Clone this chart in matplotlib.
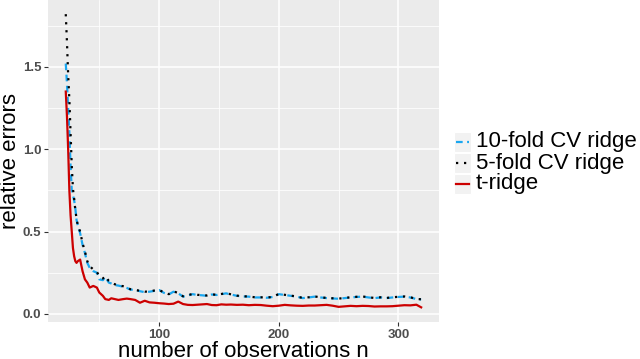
import matplotlib
matplotlib.use('Agg')
from matplotlib import pyplot as plt
from matplotlib.lines import Line2D
from matplotlib.patches import Rectangle

plt.rcParams['font.family'] = ['Liberation Sans', 'DejaVu Sans']

# number of observations
n_obs = [22, 23, 24, 25, 26, 27, 28, 29, 30, 31, 32, 34, 36, 38, 40, 42, 45, 48, 50, 53,
         55, 58, 60, 63, 66, 70, 73, 76, 80, 84, 88, 92, 96, 100, 104, 108, 112, 116, 120, 124,
         128, 132, 136, 140, 144, 148, 152, 156, 160, 165, 170, 175, 180, 185, 190, 195, 200, 205, 210, 215,
         220, 225, 230, 235, 240, 245, 250, 255, 260, 265, 270, 275, 280, 285, 290, 295, 300, 305, 310, 315,
         319]

cv10_ridge = [1.52, 1.40, 1.25, 1.10, 0.90, 0.75, 0.72, 0.69, 0.64, 0.57, 0.54, 0.49, 0.42, 0.37, 0.31, 0.28, 0.26, 0.25, 0.21, 0.205,
              0.225, 0.19, 0.185, 0.175, 0.172, 0.165, 0.158, 0.148, 0.145, 0.138, 0.132, 0.135, 0.14, 0.145, 0.128, 0.118, 0.135, 0.125, 0.105, 0.112,
              0.12, 0.115, 0.113, 0.11, 0.118, 0.115, 0.12, 0.125, 0.118, 0.11, 0.106, 0.105, 0.10, 0.10, 0.098, 0.103, 0.12, 0.115, 0.11, 0.105,
              0.096, 0.10, 0.105, 0.10, 0.096, 0.094, 0.092, 0.096, 0.10, 0.103, 0.105, 0.10, 0.096, 0.10, 0.096, 0.10, 0.103, 0.105, 0.10, 0.09,
              0.088]

cv5_ridge = [1.82, 1.65, 1.45, 1.30, 1.10, 0.90, 0.76, 0.70, 0.63, 0.58, 0.54, 0.50, 0.43, 0.38, 0.32, 0.29, 0.27, 0.255, 0.23, 0.215,
             0.23, 0.20, 0.19, 0.18, 0.175, 0.168, 0.16, 0.15, 0.146, 0.14, 0.135, 0.137, 0.142, 0.146, 0.13, 0.12, 0.137, 0.127, 0.107, 0.114,
             0.121, 0.116, 0.114, 0.112, 0.119, 0.116, 0.121, 0.126, 0.119, 0.111, 0.107, 0.106, 0.101, 0.101, 0.099, 0.104, 0.121, 0.116, 0.111, 0.106,
             0.097, 0.101, 0.106, 0.101, 0.097, 0.095, 0.093, 0.097, 0.101, 0.104, 0.106, 0.101, 0.097, 0.101, 0.097, 0.101, 0.104, 0.106, 0.101, 0.091,
             0.089]

t_ridge = [1.35, 1.20, 1.00, 0.75, 0.60, 0.50, 0.40, 0.35, 0.32, 0.31, 0.32, 0.33, 0.26, 0.21, 0.19, 0.16, 0.17, 0.16, 0.13, 0.11,
           0.09, 0.085, 0.095, 0.09, 0.085, 0.09, 0.093, 0.09, 0.085, 0.068, 0.08, 0.07, 0.068, 0.065, 0.063, 0.06, 0.062, 0.075, 0.06, 0.055,
           0.054, 0.056, 0.058, 0.06, 0.054, 0.053, 0.058, 0.056, 0.057, 0.055, 0.056, 0.053, 0.055, 0.054, 0.05, 0.047, 0.05, 0.055, 0.052, 0.05,
           0.049, 0.051, 0.051, 0.053, 0.055, 0.05, 0.043, 0.046, 0.049, 0.047, 0.049, 0.048, 0.045, 0.046, 0.046, 0.047, 0.05, 0.053, 0.052, 0.056,
           0.04]

labels = ['10-fold CV ridge', '5-fold CV ridge', 't-ridge']
colors = ['#1AA7F0', '#000000', '#CC0000']
styles = [(0, (3, 2)), (0, (1, 2.6)), '-']

fig = plt.figure(figsize=(6.4, 3.59), dpi=100)
ax = fig.add_axes([48 / 640, 1 - 322 / 359, (439 - 48) / 640, 322 / 359])
ax.set_facecolor('#EBEBEB')
for s in ax.spines.values():
    s.set_visible(False)

ax.plot(n_obs, cv10_ridge, color=colors[0], linestyle=styles[0], lw=1.6, dash_capstyle='butt', zorder=3)
ax.plot(n_obs, cv5_ridge, color=colors[1], linestyle=styles[1], lw=1.6, dash_capstyle='butt', zorder=4)
ax.plot(n_obs, t_ridge, color=colors[2], linestyle=styles[2], lw=1.6, zorder=5)

ax.set_xlim(7.15, 333.9)
ax.set_ylim(-0.049, 1.906)
ax.set_xticks([100, 200, 300])
ax.set_xticks([50, 150, 250], minor=True)
ax.set_yticks([0.0, 0.5, 1.0, 1.5])
ax.set_yticks([0.25, 0.75, 1.25, 1.75], minor=True)
ax.set_yticklabels(['0.0', '0.5', '1.0', '1.5'])
ax.grid(which='major', color='white', lw=1.1)
ax.grid(which='minor', color='white', lw=0.55)
ax.set_axisbelow(True)
ax.tick_params(which='major', length=2.75, width=0.8, color='#333333', labelsize=9.5,
               labelcolor='#4D4D4D', pad=2)
ax.tick_params(which='minor', length=0)
for lab in ax.get_xticklabels() + ax.get_yticklabels():
    lab.set_fontweight('bold')

ax.set_xlabel('number of observations n', fontsize=16)
ax.set_ylabel('relative errors', fontsize=16)
ax.xaxis.set_label_coords(0.5, -0.058)
ax.yaxis.set_label_coords(-0.069, 0.5)

# legend, drawn in figure pixels
W, H = 640, 359
for i, (lab, c, ls) in enumerate(zip(labels, colors, styles)):
    yc = 142 + 21 * i
    fig.add_artist(Rectangle((454 / W, 1 - (yc + 10) / H), 17 / W, 20 / H,
                             transform=fig.transFigure, facecolor='#F2F2F2', edgecolor='white', lw=0.8))
    fig.add_artist(Line2D([456 / W, 469 / W], [1 - yc / H, 1 - yc / H], transform=fig.transFigure,
                          color=c, linestyle=ls, lw=1.6, dash_capstyle='butt'))
    fig.text(476 / W, 1 - yc / H, lab, fontsize=16, va='center', ha='left')

fig.savefig('out.png', dpi=100)
